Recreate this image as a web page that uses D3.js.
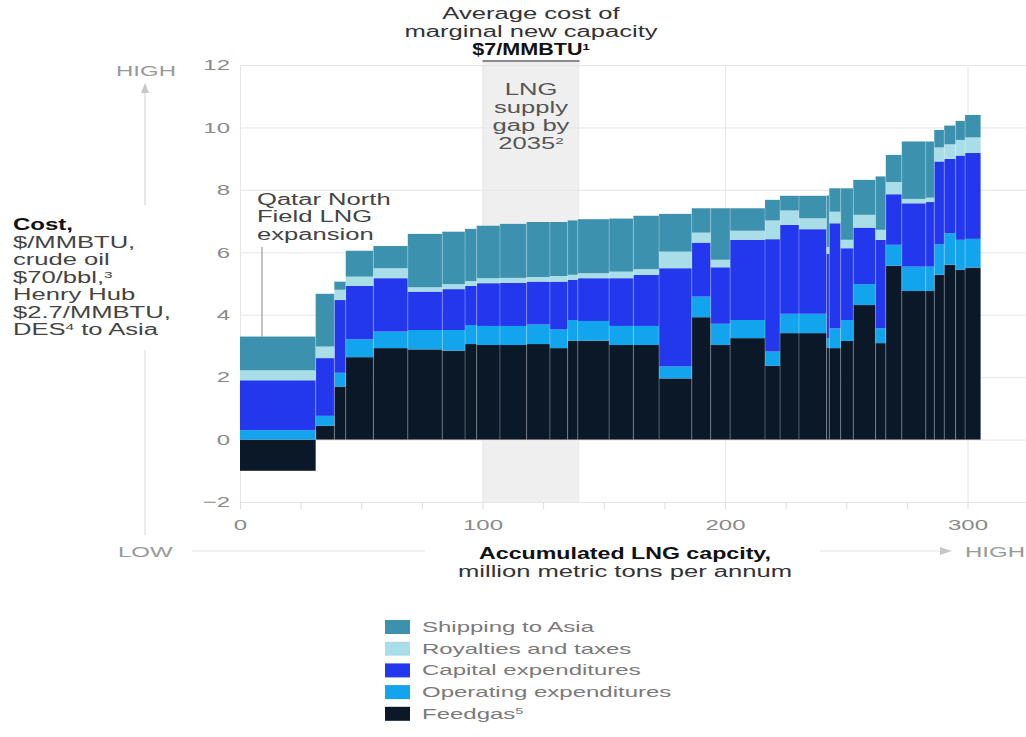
<!DOCTYPE html>
<html>
<head>
<meta charset="utf-8">
<script src="https://cdn.jsdelivr.net/npm/d3@7"></script>
<style>
  html, body { margin: 0; padding: 0; background: #ffffff; }
  svg { display: block; font-family: "Liberation Sans", Arial, sans-serif; }
</style>
</head>
<body>
<svg id="chart" width="1026" height="737"></svg>
<script>
// LNG supply cost curve: each project is a bar whose width is its capacity (MTPA)
// and whose height is the delivered cost to Asia split into five components.

const capacities = [31.2, 7.7, 4.7, 11.4, 14.2, 14.2, 9.4, 4.8, 9.6, 11.0,
                    9.6, 7.3, 4.2, 12.9, 10.0, 10.6, 13.5, 7.8, 8.0, 14.4,
                    6.2, 7.8, 11.4, 1.1, 4.7, 5.2, 9.2, 4.2, 6.6, 9.9,
                    3.5, 4.1, 4.7, 3.9, 6.4];

const feedgas   = [-1.00, 0.44, 1.70, 2.64, 2.93, 2.89, 2.85, 3.06, 3.03, 3.03,
                    3.06, 2.93, 3.17, 3.17, 3.03, 3.03, 1.96, 3.92, 3.03, 3.25,
                    2.36, 3.41, 3.41, 2.95, 2.93, 3.16, 4.31, 3.09, 5.57, 4.76,
                    4.76, 5.28, 5.60, 5.44, 5.51];
const opex      = [0.30, 0.32, 0.44, 0.57, 0.53, 0.62, 0.66, 0.61, 0.61, 0.61,
                   0.63, 0.60, 0.66, 0.63, 0.61, 0.61, 0.38, 0.66, 0.68, 0.58,
                   0.46, 0.62, 0.62, 0.30, 0.63, 0.67, 0.67, 0.48, 0.67, 0.78,
                   0.78, 0.98, 1.01, 0.96, 0.92];
const capex     = [1.60, 1.85, 2.33, 1.71, 1.71, 1.23, 1.31, 1.25, 1.37, 1.38,
                   1.37, 1.53, 1.29, 1.37, 1.53, 1.64, 3.15, 1.73, 1.81, 2.57,
                   3.60, 2.85, 2.71, 2.70, 3.37, 2.30, 1.81, 2.83, 1.62, 2.03,
                   2.07, 2.65, 2.38, 2.70, 2.75];
const royalties = [0.32, 0.37, 0.33, 0.30, 0.32, 0.14, 0.16, 0.16, 0.16, 0.16,
                   0.15, 0.18, 0.16, 0.16, 0.21, 0.18, 0.53, 0.32, 0.24, 0.29,
                   0.60, 0.46, 0.35, 0.22, 0.37, 0.27, 0.41, 0.32, 0.39, 0.14,
                   0.14, 0.45, 0.47, 0.50, 0.50];
const shipping  = [1.08, 1.69, 0.26, 0.83, 0.71, 1.71, 1.68, 1.67, 1.68, 1.73,
                   1.76, 1.73, 1.74, 1.73, 1.70, 1.71, 1.21, 0.78, 1.65, 0.72,
                   0.66, 0.47, 0.72, 1.65, 0.75, 1.65, 1.12, 1.71, 0.87, 1.84,
                   1.80, 0.56, 0.60, 0.61, 0.72];

const seriesKeys   = ["feedgas", "opex", "capex", "royalties", "shipping"];
const seriesColors = ["#0b1828", "#12a4ec", "#2338ec", "#a9dde8", "#3b91ae"];
const legendLabels = ["Shipping to Asia", "Royalties and taxes", "Capital expenditures",
                      "Operating expenditures", "Feedgas"];
const legendKeys   = ["shipping", "royalties", "capex", "opex", "feedgas"];

const yTicks = [-2, 0, 2, 4, 6, 8, 10, 12];
const xTicks = [0, 100, 200, 300];
const xMinorTicks = d3.range(0, 301, 25);
const supplyGap = [100, 140];

// ---------------------------------------------------------------------------
const SX = 1.6;                // horizontal stretch of the typeface
const svg = d3.select("#chart");

const x = d3.scaleLinear().domain([0, 300]).range([240, 967.5]);
const y = d3.scaleLinear().domain([-2, 12]).range([502, 65]);
const color = d3.scaleOrdinal(seriesKeys, seriesColors);

function label(g, px, py, str, opt = {}) {
  const t = g.append("text")
    .attr("transform", `translate(${px},${py}) scale(${opt.sx || SX},1)`)
    .attr("font-size", opt.size || 16)
    .attr("fill", opt.fill || "#444")
    .attr("font-weight", opt.bold ? "bold" : null)
    .attr("text-anchor", opt.anchor || "start");
  if (Array.isArray(str)) {
    str.forEach(part => {
      const ts = t.append("tspan").text(part.t);
      if (part.sup) ts.attr("font-size", "0.6em").attr("baseline-shift", "super");
    });
  } else {
    t.text(str);
  }
  return t;
}

function stretchTicks(sel) {
  sel.selectAll(".tick text").each(function () {
    const t = d3.select(this);
    const tx = +t.attr("x") || 0;
    t.attr("x", tx / SX).attr("transform", `scale(${SX},1)`);
  });
}

// bar rows with cumulative capacity bounds
const ends = d3.cumsum(capacities);
const rows = capacities.map((c, i) => ({
  x0: ends[i] - c, x1: ends[i],
  feedgas: feedgas[i], opex: opex[i], capex: capex[i],
  royalties: royalties[i], shipping: shipping[i]
}));
const stacked = d3.stack().keys(seriesKeys).offset(d3.stackOffsetDiverging)(rows);

// supply gap band
svg.append("rect")
  .attr("x", x(supplyGap[0])).attr("width", x(supplyGap[1]) - x(supplyGap[0]))
  .attr("y", 61).attr("height", y(-2) - 61)
  .attr("fill", "#efefef");
svg.append("line")
  .attr("x1", x(supplyGap[0])).attr("x2", x(supplyGap[1]))
  .attr("y1", 61).attr("y2", 61)
  .attr("stroke", "#666").attr("stroke-width", 1.5);

// y grid + labels
const yAxis = svg.append("g")
  .attr("transform", `translate(${x(0)},0)`)
  .call(d3.axisLeft(y).tickValues(yTicks).tickSize(-(1026 - x(0))).tickPadding(10));
yAxis.select(".domain").remove();
yAxis.selectAll(".tick line").attr("stroke", "#e6e6e6");
yAxis.selectAll(".tick text").attr("fill", "#8a8a8a").attr("font-size", 15)
  .attr("font-family", "Liberation Sans, Arial, sans-serif");
stretchTicks(yAxis);

// x grid + labels
const xAxis = svg.append("g")
  .attr("transform", `translate(0,${y(-2)})`)
  .call(d3.axisBottom(x).tickValues(xTicks).tickSize(-(y(-2) - y(12))).tickPadding(17));
xAxis.select(".domain").remove();
xAxis.selectAll(".tick line").attr("stroke", "#e6e6e6");
xAxis.selectAll(".tick text").attr("fill", "#8a8a8a").attr("font-size", 15)
  .attr("font-family", "Liberation Sans, Arial, sans-serif");
stretchTicks(xAxis);

const xMinor = svg.append("g")
  .attr("transform", `translate(0,${y(-2)})`)
  .call(d3.axisBottom(x).tickValues(xMinorTicks).tickSize(7).tickFormat(""));
xMinor.select(".domain").remove();
xMinor.selectAll(".tick line").attr("stroke", "#dcdcdc");

// stacked bars
svg.append("g").selectAll("g")
  .data(stacked)
  .join("g")
  .attr("fill", d => color(d.key))
  .selectAll("rect")
  .data(d => d)
  .join("rect")
  .attr("x", d => x(d.data.x0))
  .attr("width", d => x(d.data.x1) - x(d.data.x0))
  .attr("y", d => y(Math.max(d[0], d[1])))
  .attr("height", d => Math.abs(y(d[0]) - y(d[1])));

// thin separators between neighbouring projects
const tops = rows.map(r => r.feedgas + r.opex + r.capex + r.royalties + r.shipping
                         - Math.min(0, r.feedgas) );
svg.append("g").selectAll("line")
  .data(rows.slice(1))
  .join("line")
  .attr("x1", d => x(d.x0)).attr("x2", d => x(d.x0))
  .attr("y1", y(0))
  .attr("y2", (d, i) => y(Math.min(tops[i], tops[i + 1])))
  .attr("stroke", "#ffffff").attr("stroke-opacity", 0.28).attr("stroke-width", 1);

// supply gap text
const gapText = svg.append("g");
label(gapText, 531, 95, "LNG", { anchor: "middle", fill: "#555" });
label(gapText, 531, 113, "supply", { anchor: "middle", fill: "#555" });
label(gapText, 531, 131, "gap by", { anchor: "middle", fill: "#555" });
label(gapText, 531, 149, [{ t: "2035" }, { t: "2", sup: true }], { anchor: "middle", fill: "#555" });

// average cost heading
const head = svg.append("g");
label(head, 531, 19, "Average cost of", { anchor: "middle", fill: "#333" });
label(head, 531, 37, "marginal new capacity", { anchor: "middle", fill: "#333" });
label(head, 531, 55, [{ t: "$7/MMBTU" }, { t: "1", sup: true }],
      { anchor: "middle", fill: "#111", bold: true, sx: 1.35 });

// Qatar annotation
const qatar = svg.append("g");
label(qatar, 257, 205, "Qatar North", { fill: "#444" });
label(qatar, 257, 222, "Field LNG", { fill: "#444" });
label(qatar, 257, 240, "expansion", { fill: "#444" });
qatar.append("line")
  .attr("x1", 262).attr("x2", 262)
  .attr("y1", 247).attr("y2", y(rows[0].opex + rows[0].capex + rows[0].royalties + rows[0].shipping))
  .attr("stroke", "#888").attr("stroke-width", 1);

// y axis title block
const yt = svg.append("g");
label(yt, 13, 230, "Cost,", { fill: "#111", bold: true, sx: 1.5 });
label(yt, 13, 248, "$/MMBTU,");
label(yt, 13, 265, "crude oil");
label(yt, 13, 283, [{ t: "$70/bbl," }, { t: "3", sup: true }]);
label(yt, 13, 300, "Henry Hub");
label(yt, 13, 318, "$2.7/MMBTU,");
label(yt, 13, 335, [{ t: "DES" }, { t: "4", sup: true }, { t: " to Asia" }]);

// low/high direction guides
const guides = svg.append("g");
label(guides, 176, 76, "HIGH", { anchor: "end", fill: "#9a9a9a", size: 15 });
guides.append("line").attr("x1", 145).attr("x2", 145).attr("y1", 92).attr("y2", 205)
  .attr("stroke", "#d0d0d0");
guides.append("path").attr("d", "M145,83 L141,93 L149,93 Z").attr("fill", "#c8c8c8");
guides.append("line").attr("x1", 145).attr("x2", 145).attr("y1", 350).attr("y2", 535)
  .attr("stroke", "#d8d8d8");
label(guides, 118, 557, "LOW", { fill: "#9a9a9a", size: 15 });
guides.append("line").attr("x1", 192).attr("x2", 425).attr("y1", 551).attr("y2", 551)
  .attr("stroke", "#e2e2e2");
guides.append("line").attr("x1", 820).attr("x2", 940).attr("y1", 551).attr("y2", 551)
  .attr("stroke", "#e2e2e2");
guides.append("path").attr("d", "M952,551 L940,547 L940,555 Z").attr("fill", "#c8c8c8");
label(guides, 965, 557, "HIGH", { fill: "#9a9a9a", size: 15 });

// x axis title
label(svg, 625, 559, "Accumulated LNG capcity,", { anchor: "middle", fill: "#111", bold: true, sx: 1.45 });
label(svg, 625, 577, "million metric tons per annum", { anchor: "middle", fill: "#333" });

// legend
const legend = svg.append("g").selectAll("g")
  .data(legendKeys)
  .join("g")
  .attr("transform", (d, i) => `translate(385,${620 + i * 21.7})`);
legend.append("rect").attr("width", 25).attr("height", 14).attr("fill", d => color(d));
legend.each(function (d, i) {
  const g = d3.select(this);
  const txt = i === 4 ? [{ t: "Feedgas" }, { t: "5", sup: true }] : legendLabels[i];
  label(g, 37, 12, txt, { fill: "#7a7a7a", size: 15 });
});
</script>
</body>
</html>
